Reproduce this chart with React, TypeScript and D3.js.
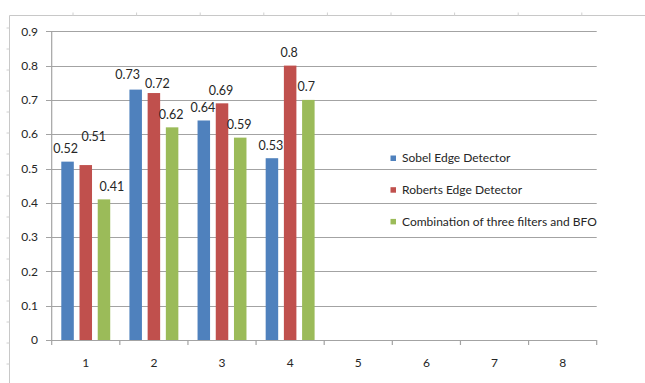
import React from "react";
import * as d3 from "d3";

const categories = ["1", "2", "3", "4", "5", "6", "7", "8"];
const seriesNames = [
  "Sobel Edge Detector",
  "Roberts Edge Detector",
  "Combination of three filters and BFO",
];
const sobel = [0.52, 0.73, 0.64, 0.53];
const roberts = [0.51, 0.72, 0.69, 0.8];
const combination = [0.41, 0.62, 0.59, 0.7];
const yTicks = [0, 0.1, 0.2, 0.3, 0.4, 0.5, 0.6, 0.7, 0.8, 0.9];

const seriesValues = [sobel, roberts, combination];
const colors = ["#4F81BD", "#C0504D", "#9BBB59"];
// Label nudges (Excel auto label placement), [dx, dy] per series per category
const labelNudges = [
  [[-2, 0], [-8, -2], [-1, 0], [-1, 0]],
  [[8, -15], [3.5, 4], [-1, 0], [-1, 0]],
  [[8, 0], [-1, 0], [-1, 0], [-2, 0]],
];

const W = 645;
const H = 383;
const FONT = "Lato, 'Open Sans', sans-serif";
const GRID = "#a3a3a3";
const TEXT = "#262626";

export default function App() {
  const x = d3.scaleBand<string>().domain(categories).range([51.7, 596.7]).padding(0);
  const xs = d3
    .scaleBand<number>()
    .domain([0, 1, 2])
    .range([0, x.bandwidth()])
    .paddingInner(0.313)
    .paddingOuter(0.527);
  const y = d3.scaleLinear().domain([0, 0.9]).range([340, 31.3]);

  const topTicks = d3.range(9).map((i) => 73 + i * 63.6);
  const leftTicks = d3.range(17).map((i) => 28 + i * 21);

  return (
    <div style={{ position: "absolute", left: 0, top: 0 }}>
      <svg width={W} height={H} style={{ display: "block", background: "#fff" }}>
        {/* outer frame ruler */}
        <line x1={9.5} x2={W} y1={15.5} y2={15.5} stroke="#c8c8c8" />
        <line x1={9.5} x2={9.5} y1={15.5} y2={H} stroke="#c8c8c8" />
        {topTicks.map((t, i) => (
          <line key={"tt" + i} x1={t} x2={t} y1={12.5} y2={15.5} stroke="#d0d0d0" />
        ))}
        {leftTicks.map((t, i) => (
          <line key={"lt" + i} x1={6.5} x2={9.5} y1={t} y2={t} stroke="#d0d0d0" />
        ))}

        {/* gridlines */}
        {yTicks.map((t) => (
          <g key={"g" + t}>
            <line
              x1={46}
              x2={596.7}
              y1={Math.round(y(t)) + 0.5}
              y2={Math.round(y(t)) + 0.5}
              stroke={GRID}
              strokeWidth={1.2}
            />
            <text
              x={38}
              y={y(t)}
              dy="0.35em"
              textAnchor="end"
              fontFamily={FONT}
              fontSize={12}
              fill={TEXT}
            >
              {t === 0 ? "0" : t.toFixed(1)}
            </text>
          </g>
        ))}
        {/* y axis */}
        <line x1={51.7} x2={51.7} y1={y(0.9)} y2={y(0) + 0.5} stroke={GRID} strokeWidth={1.2} />
        {/* x ticks */}
        {categories.map((c) => (
          <line
            key={"xt" + c}
            x1={x(c) as number}
            x2={x(c) as number}
            y1={340}
            y2={345}
            stroke={GRID}
            strokeWidth={1.2}
          />
        ))}
        <line x1={596.7} x2={596.7} y1={340} y2={345} stroke={GRID} strokeWidth={1.2} />
        {categories.map((c) => (
          <text
            key={"xl" + c}
            x={(x(c) as number) + x.bandwidth() / 2}
            y={363}
            dy="0.35em"
            textAnchor="middle"
            fontFamily={FONT}
            fontSize={12}
            fill={TEXT}
          >
            {c}
          </text>
        ))}

        {/* bars */}
        {seriesValues.map((vals, s) =>
          vals.map((v, i) => {
            const bx = (x(categories[i]) as number) + (xs(s) as number);
            return (
              <rect
                key={"b" + s + "-" + i}
                x={bx}
                y={y(v)}
                width={xs.bandwidth()}
                height={y(0) - y(v)}
                fill={colors[s]}
              />
            );
          })
        )}
        {/* labels */}
        {seriesValues.map((vals, s) =>
          vals.map((v, i) => {
            const bx = (x(categories[i]) as number) + (xs(s) as number) + xs.bandwidth() / 2;
            const [dx, dy] = labelNudges[s][i];
            return (
              <text
                key={"l" + s + "-" + i}
                x={bx + dx}
                y={y(v) - 13 + dy}
                dy="0.35em"
                textAnchor="middle"
                fontFamily={FONT}
                fontSize={12.5}
                fill={TEXT}
              >
                {String(v)}
              </text>
            );
          })
        )}

        {/* legend */}
        {seriesNames.map((n, i) => (
          <g key={"lg" + i} transform={`translate(393, ${158 + i * 31.7})`}>
            <rect x={-2.5} y={-2.5} width={5.5} height={5.5} fill={colors[i]} />
            <text x={9} y={0} dy="0.35em" fontFamily={FONT} fontSize={12} fill={TEXT}>
              {n}
            </text>
          </g>
        ))}
      </svg>
    </div>
  );
}
